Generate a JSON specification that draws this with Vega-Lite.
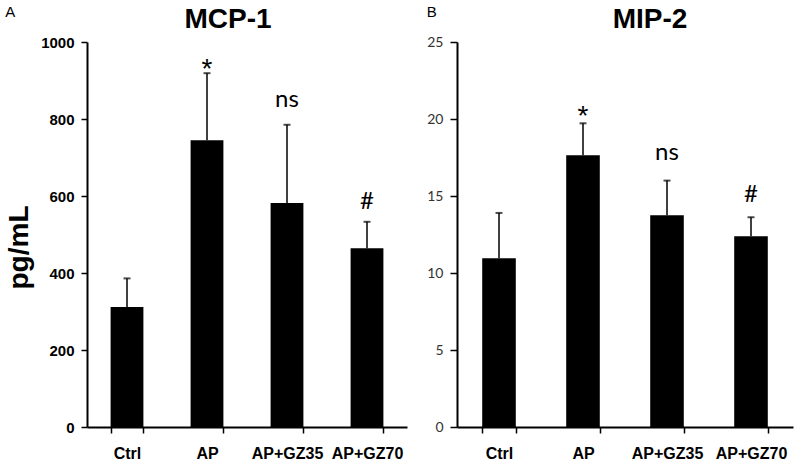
{
  "$schema": "https://vega.github.io/schema/vega-lite/v6.json",
  "background": "white",
  "padding": 5,
  "datasets": {
    "mcp": [
      {"group": "Ctrl", "mean": 312, "upper": 386, "sig": ""},
      {"group": "AP", "mean": 745, "upper": 919, "sig": "*"},
      {"group": "AP+GZ35", "mean": 582, "upper": 785, "sig": "ns"},
      {"group": "AP+GZ70", "mean": 464, "upper": 533, "sig": "#"}
    ],
    "mip": [
      {"group": "Ctrl", "mean": 10.95, "upper": 13.9, "sig": ""},
      {"group": "AP", "mean": 17.65, "upper": 19.72, "sig": "*"},
      {"group": "AP+GZ35", "mean": 13.75, "upper": 16.0, "sig": "ns"},
      {"group": "AP+GZ70", "mean": 12.38, "upper": 13.62, "sig": "#"}
    ]
  },
  "config": {
    "view": {"stroke": null},
    "axis": {"grid": false, "domainColor": "black", "tickColor": "black", "domainWidth": 2, "tickWidth": 1.5}
  },
  "spacing": 19,
  "hconcat": [
    {
      "title": {"text": "A", "anchor": "start", "fontSize": 15, "fontWeight": "normal", "font": "Liberation Sans", "color": "black", "offset": -14},
      "vconcat": [
        {
          "width": 320,
          "height": 385,
          "data": {"name": "mcp"},
          "title": {"text": "MCP-1", "font": "Liberation Sans", "fontSize": 28, "fontWeight": "bold", "color": "black", "dx": -19, "offset": 1},
          "encoding": {
            "x": {
              "field": "group", "type": "nominal", "sort": null,
              "scale": {"paddingInner": 0.59, "paddingOuter": 0.295},
              "axis": {"title": null, "labelAngle": 0, "tickBand": "extent", "labelFont": "Liberation Sans", "labelFontWeight": "bold", "labelFontSize": 16, "labelColor": "black", "labelPadding": 12, "tickSize": 6}
            }
          },
          "layer": [
            {
              "mark": {"type": "bar", "color": "black"},
              "encoding": {
                "y": {
                  "field": "mean", "type": "quantitative",
                  "scale": {"domain": [0, 1000], "nice": false},
                  "axis": {"values": [0, 200, 400, 600, 800, 1000], "format": "d", "title": "pg/mL", "titleFont": "Liberation Sans", "titleFontSize": 28, "titleFontWeight": "bold", "titleColor": "black", "titlePadding": 7.5, "titleY": 205, "labelFont": "Liberation Sans", "labelFontWeight": "bold", "labelFontSize": 15, "labelColor": "black", "labelPadding": 7, "tickSize": 6}
                }
              }
            },
            {
              "mark": {"type": "rule", "color": "black", "strokeWidth": 1.5},
              "encoding": {"y": {"field": "mean", "type": "quantitative"}, "y2": {"field": "upper"}}
            },
            {
              "mark": {"type": "tick", "orient": "horizontal", "size": 7, "thickness": 2, "color": "black"},
              "encoding": {"y": {"field": "upper", "type": "quantitative"}}
            },
            {
              "transform": [{"filter": "datum.sig == '*'"}],
              "mark": {"type": "text", "font": "Liberation Sans", "fontSize": 28, "baseline": "alphabetic", "dy": 5, "color": "black"},
              "encoding": {"y": {"field": "upper", "type": "quantitative"}, "text": {"field": "sig"}}
            },
            {
              "transform": [{"filter": "datum.sig == 'ns'"}],
              "mark": {"type": "text", "font": "Lato", "fontSize": 24, "baseline": "alphabetic", "dy": -18, "color": "black"},
              "encoding": {"y": {"field": "upper", "type": "quantitative"}, "text": {"field": "sig"}}
            },
            {
              "transform": [{"filter": "datum.sig == '#'"}],
              "mark": {"type": "text", "font": "Lato", "fontSize": 24, "baseline": "alphabetic", "dy": -13, "color": "black"},
              "encoding": {"y": {"field": "upper", "type": "quantitative"}, "text": {"field": "sig"}}
            }
          ]
        }
      ]
    },
    {
      "title": {"text": "B", "anchor": "start", "fontSize": 15, "fontWeight": "normal", "font": "Liberation Sans", "color": "black", "offset": -14},
      "vconcat": [
        {
          "width": 336,
          "height": 385,
          "data": {"name": "mip"},
          "title": {"text": "MIP-2", "font": "Liberation Sans", "fontSize": 28, "fontWeight": "bold", "color": "black", "dx": 25, "offset": 1},
          "encoding": {
            "x": {
              "field": "group", "type": "nominal", "sort": null,
              "scale": {"paddingInner": 0.6, "paddingOuter": 0.3},
              "axis": {"title": null, "labelAngle": 0, "tickBand": "extent", "labelFont": "Liberation Sans", "labelFontWeight": "bold", "labelFontSize": 16, "labelColor": "black", "labelPadding": 12, "tickSize": 6}
            }
          },
          "layer": [
            {
              "mark": {"type": "bar", "color": "black"},
              "encoding": {
                "y": {
                  "field": "mean", "type": "quantitative",
                  "scale": {"domain": [0, 25], "nice": false},
                  "axis": {"values": [0, 5, 10, 15, 20, 25], "title": null, "labelFont": "Lato", "labelFontSize": 14, "labelColor": "#333333", "labelPadding": 7, "tickSize": 7}
                }
              }
            },
            {
              "mark": {"type": "rule", "color": "black", "strokeWidth": 1.5},
              "encoding": {"y": {"field": "mean", "type": "quantitative"}, "y2": {"field": "upper"}}
            },
            {
              "mark": {"type": "tick", "orient": "horizontal", "size": 7, "thickness": 2, "color": "black"},
              "encoding": {"y": {"field": "upper", "type": "quantitative"}}
            },
            {
              "transform": [{"filter": "datum.sig == '*'"}],
              "mark": {"type": "text", "font": "Liberation Sans", "fontSize": 28, "baseline": "alphabetic", "dy": 2, "color": "black"},
              "encoding": {"y": {"field": "upper", "type": "quantitative"}, "text": {"field": "sig"}}
            },
            {
              "transform": [{"filter": "datum.sig == 'ns'"}],
              "mark": {"type": "text", "font": "Lato", "fontSize": 24, "baseline": "alphabetic", "dy": -21, "color": "black"},
              "encoding": {"y": {"field": "upper", "type": "quantitative"}, "text": {"field": "sig"}}
            },
            {
              "transform": [{"filter": "datum.sig == '#'"}],
              "mark": {"type": "text", "font": "Lato", "fontSize": 24, "baseline": "alphabetic", "dy": -15, "color": "black"},
              "encoding": {"y": {"field": "upper", "type": "quantitative"}, "text": {"field": "sig"}}
            }
          ]
        }
      ]
    }
  ]
}
